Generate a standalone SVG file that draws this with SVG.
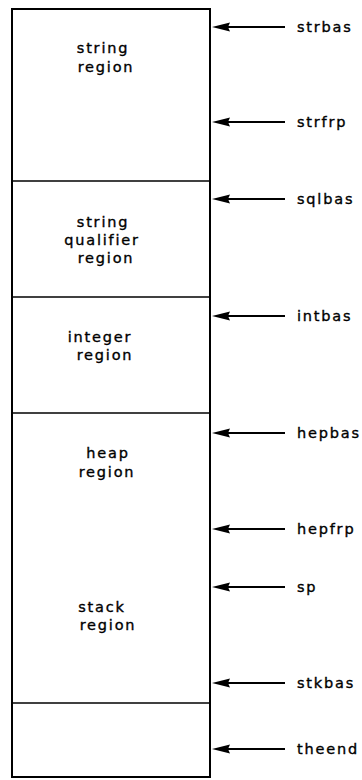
<svg xmlns="http://www.w3.org/2000/svg" width="362" height="780" viewBox="0 0 362 780">
  <style>
    .box { fill: #fff; stroke: #000; stroke-width: 2; }
    .div { stroke: #000; stroke-width: 1.6; fill: none; }
    .lbl { font-family: "DejaVu Sans", sans-serif; font-size: 14.5px; letter-spacing: 1.8px; fill: #000; stroke: #000; stroke-width: 0.35; }
    .reg { text-anchor: middle; }
  </style>
  <defs>
    <g id="arrow">
      <line x1="224" y1="0" x2="285" y2="0" stroke="#000" stroke-width="2"/>
      <path d="M212,0 L230,-4.5 L228,0 L230,4.5 Z" fill="#000"/>
    </g>
  </defs>
  <rect width="362" height="780" fill="#fff"/>

  <!-- memory regions -->
  <g id="string-region">
    <rect class="box" x="12" y="9" width="198" height="768"/>
    <text class="lbl reg" x="103" y="53">string</text>
    <text class="lbl reg" x="106" y="72">region</text>
  </g>
  <g id="qualifier-region">
    <line class="div" x1="12" y1="181" x2="210" y2="181"/>
    <text class="lbl reg" x="103" y="227">string</text>
    <text class="lbl reg" x="102" y="245">qualifier</text>
    <text class="lbl reg" x="106" y="263">region</text>
  </g>
  <g id="integer-region">
    <line class="div" x1="12" y1="297" x2="210" y2="297"/>
    <text class="lbl reg" x="100" y="342">integer</text>
    <text class="lbl reg" x="105" y="360">region</text>
  </g>
  <g id="heap-region">
    <line class="div" x1="12" y1="413" x2="210" y2="413"/>
    <text class="lbl reg" x="108" y="458">heap</text>
    <text class="lbl reg" x="107" y="477">region</text>
  </g>
  <g id="stack-region">
    <text class="lbl reg" x="102" y="612">stack</text>
    <text class="lbl reg" x="108" y="630">region</text>
  </g>
  <g id="end-region">
    <line class="div" x1="12" y1="703" x2="210" y2="703"/>
  </g>

  <!-- pointers -->
  <g id="connectors">
    <use href="#arrow" y="27"/>
    <use href="#arrow" y="122"/>
    <use href="#arrow" y="199"/>
    <use href="#arrow" y="316"/>
    <use href="#arrow" y="433"/>
    <use href="#arrow" y="529"/>
    <use href="#arrow" y="587"/>
    <use href="#arrow" y="683"/>
    <use href="#arrow" y="749"/>
  </g>
  <g id="pointer-labels">
    <text class="lbl" x="297" y="32">strbas</text>
    <text class="lbl" x="297" y="127">strfrp</text>
    <text class="lbl" x="297" y="204">sqlbas</text>
    <text class="lbl" x="297" y="321">intbas</text>
    <text class="lbl" x="297" y="438">hepbas</text>
    <text class="lbl" x="297" y="534">hepfrp</text>
    <text class="lbl" x="297" y="592">sp</text>
    <text class="lbl" x="297" y="688">stkbas</text>
    <text class="lbl" x="297" y="754">theend</text>
  </g>
</svg>
